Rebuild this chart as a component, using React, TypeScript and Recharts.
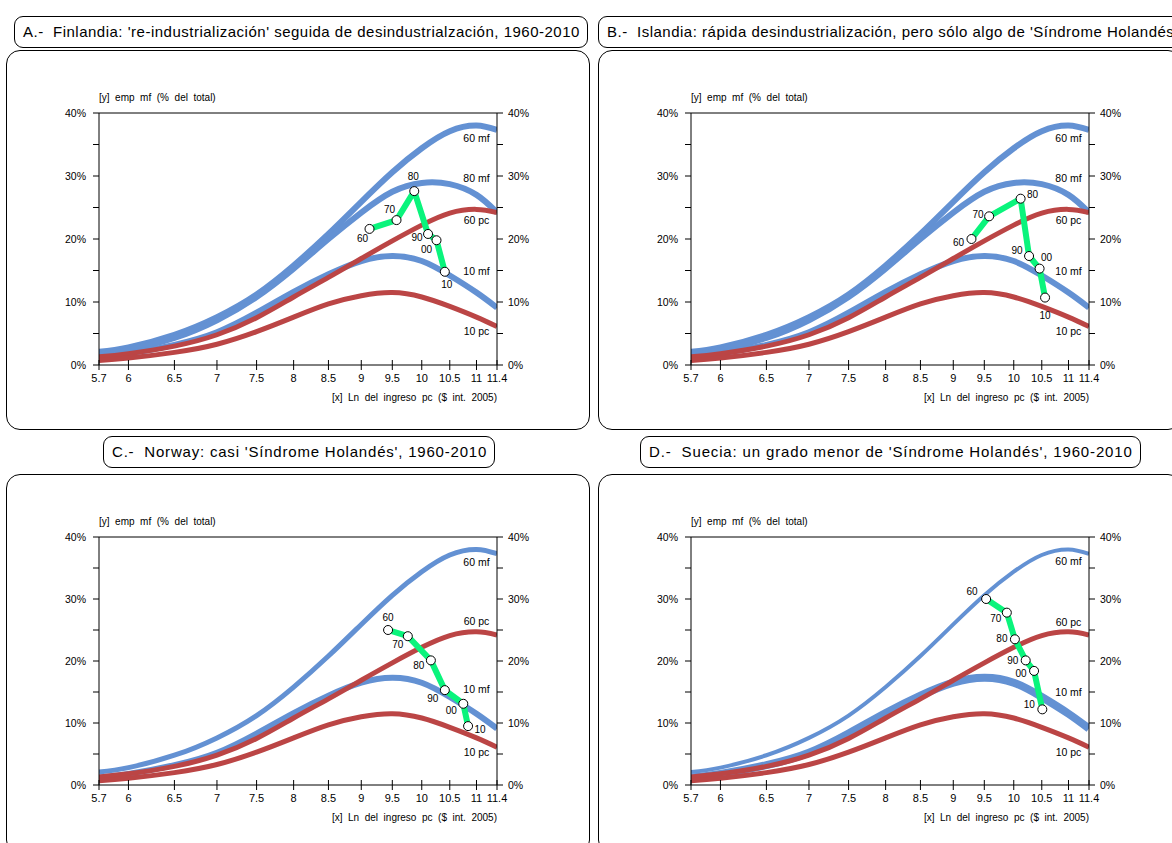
import React from 'react';
import { LineChart, Line, XAxis, YAxis, ReferenceLine, ReferenceDot } from 'recharts';

// x axis: Ln income, log-spaced ticks
const xTicks = [5.7, 6, 6.5, 7, 7.5, 8, 8.5, 9, 9.5, 10, 10.5, 11, 11.4];
const yTicks = [0, 5, 10, 15, 20, 25, 30, 35, 40];

// reference curves (same in every panel)
const curveX = [5.7, 6, 6.5, 7, 7.5, 8, 8.5, 9, 9.5, 10, 10.5, 11, 11.4];
const mf60 = [2.1, 2.8, 4.8, 7.6, 11.2, 15.8, 20.8, 25.9, 30.6, 34.4, 37.1, 38.0, 37.3];
const mf80 = [1.6, 2.4, 4.3, 7.1, 10.8, 15.3, 20.0, 24.2, 27.5, 28.9, 28.7, 27.0, 24.2];
const mf10 = [1.2, 1.8, 3.2, 5.2, 8.3, 11.6, 14.4, 16.5, 17.3, 16.5, 14.2, 11.5, 9.1];
const pc60 = [1.3, 1.8, 3.0, 4.8, 7.5, 10.8, 13.9, 16.9, 19.7, 22.2, 24.1, 24.7, 24.2];
const pc10 = [0.7, 1.1, 2.0, 3.3, 5.3, 7.6, 9.7, 11.0, 11.5, 10.8, 9.3, 7.6, 6.1];

// country paths, decades 1960-2010
const years = ['60', '70', '80', '90', '00', '10'];
const finX = [9.13, 9.57, 9.87, 10.11, 10.26, 10.41];
const finY = [21.6, 23.0, 27.6, 20.8, 19.8, 14.8];
const iceX = [9.29, 9.58, 10.12, 10.27, 10.46, 10.56];
const iceY = [20.0, 23.6, 26.4, 17.3, 15.3, 10.7];
const norX = [9.43, 9.76, 10.16, 10.41, 10.75, 10.84];
const norY = [25.0, 24.0, 20.1, 15.3, 13.1, 9.5];
const sweX = [9.53, 9.88, 10.02, 10.21, 10.36, 10.51];
const sweY = [30.0, 27.8, 23.5, 20.1, 18.4, 12.2];

const BLUE = '#6391d3';
const RED = '#bb4545';
const GREEN = '#0af47c';
const FONT = '"Liberation Sans", Arial, sans-serif';

const toPts = (xs: number[], ys: number[]) => xs.map((x, i) => ({ x, y: ys[i] }));

const XTick = (props: any) => {
  const { x, y, payload } = props;
  return (
    <g>
      <line x1={x} x2={x} y1={y - 5} y2={y + 5} stroke="#000" />
      <text x={x} y={y + 17} textAnchor="middle" fontSize={11} fill="#000" fontFamily={FONT}>
        {payload.value}
      </text>
    </g>
  );
};

interface PanelProps {
  title: string;
  box: { left: number; top: number; width?: number };
  spacing: number;
  left: number;
  top: number;
  plotH: number;
  pathX: number[];
  pathY: number[];
  offsets: number[][];
  curveLabels: { text: string; y: number }[];
  withMf80: boolean;
  mf60W: number;
  mf10W: number;
}

const Panel: React.FC<PanelProps> = (p) => {
  const W = 584;
  const H = 380;
  const plotTop = 63;
  const plotLeft = 93;
  const path = p.pathX.map((x, i) => ({ x, y: p.pathY[i], yr: years[i] }));

  const renderDot = (d: any) => {
    const off = p.offsets[d.index] || [0, 0];
    return (
      <g key={'d' + d.index}>
        <circle cx={d.cx} cy={d.cy} r={4.5} fill="#fff" stroke="#000" strokeWidth={1} />
        <text
          x={d.cx + off[0]}
          y={d.cy + off[1] + 3.5}
          textAnchor="middle"
          fontSize={10}
          fontFamily={FONT}
          fill="#000"
        >
          {d.payload.yr}
        </text>
      </g>
    );
  };

  const curve = (ys: number[], color: string, w: number) => (
    <Line
      yAxisId="l"
      data={toPts(curveX, ys)}
      dataKey="y"
      type="natural"
      stroke={color}
      strokeWidth={w}
      dot={false}
      activeDot={false}
      isAnimationActive={false}
    />
  );

  return (
    <>
      <div
        style={{
          position: 'absolute',
          left: p.box.left,
          top: p.box.top,
          width: p.box.width,
          height: 30,
          lineHeight: '30px',
          padding: '0 7px 0 8px',
          border: '1px solid #000',
          borderRadius: 9,
          fontSize: 15,
          letterSpacing: p.spacing,
          fontFamily: FONT,
          whiteSpace: 'pre',
          overflow: 'hidden',
          boxSizing: 'content-box',
        }}
      >
        {p.title}
      </div>
      <div
        style={{
          position: 'absolute',
          left: p.left,
          top: p.top,
          width: W - 2,
          height: H - 2,
          border: '1px solid #000',
          borderRadius: 14,
        }}
      >
        <div
          style={{
            position: 'absolute',
            left: plotLeft - 1,
            top: plotTop - 22,
            fontSize: 10,
            fontFamily: FONT,
            whiteSpace: 'pre',
          }}
        >
          [y]  emp  mf  (%  del  total)
        </div>
        <div
          style={{
            position: 'absolute',
            left: plotLeft - 1,
            width: 398,
            top: plotTop + p.plotH + 26,
            fontSize: 10,
            fontFamily: FONT,
            textAlign: 'right',
            whiteSpace: 'pre',
          }}
        >
          [x]  Ln  del  ingreso  pc  ($  int.  2005)
        </div>
        <div style={{ position: 'absolute', left: -1, top: -1 }}>
          <LineChart
            width={W}
            height={H}
            margin={{ top: plotTop, left: plotLeft - 40, right: W - plotLeft - 398 - 40, bottom: H - plotTop - p.plotH - 40 }}
          >
            <XAxis
              dataKey="x"
              type="number"
              scale="log"
              domain={[5.7, 11.4]}
              ticks={xTicks}
              interval={0}
              allowDataOverflow
              tickLine={false}
              tickSize={0}
              tickMargin={0}
              tick={<XTick />}
              axisLine={{ stroke: '#000' }}
              height={40}
            />
            <YAxis
              yAxisId="l"
              domain={[0, 40]}
              ticks={yTicks}
              interval={0}
              allowDataOverflow
              width={40}
              tickSize={6}
              tickMargin={7}
              tickFormatter={(v: number) => (v % 10 === 0 ? `${v}%` : '')}
              tick={{ fontSize: 10.5, fill: '#000', fontFamily: FONT }}
              tickLine={{ stroke: '#000' }}
              axisLine={{ stroke: '#000' }}
            />
            <YAxis
              yAxisId="r"
              orientation="right"
              domain={[0, 40]}
              ticks={yTicks}
              interval={0}
              allowDataOverflow
              width={40}
              tickSize={6}
              tickMargin={5}
              tickFormatter={(v: number) => (v % 10 === 0 ? `${v}%` : '')}
              tick={{ fontSize: 10.5, fill: '#000', fontFamily: FONT }}
              tickLine={{ stroke: '#000' }}
              axisLine={{ stroke: '#000' }}
            />
            <ReferenceLine yAxisId="l" y={40} stroke="#000" ifOverflow="visible" />
            {curve(mf60, BLUE, p.mf60W)}
            {p.withMf80 && curve(mf80, BLUE, 6)}
            {curve(mf10, BLUE, p.mf10W)}
            {curve(pc60, RED, 5)}
            {curve(pc10, RED, 5)}
            <Line
              yAxisId="l"
              data={path}
              dataKey="y"
              type="linear"
              stroke={GREEN}
              strokeWidth={6}
              strokeLinejoin="round"
              dot={renderDot}
              activeDot={false}
              isAnimationActive={false}
            />
            {p.curveLabels.map((c) => (
              <ReferenceDot
                key={c.text}
                yAxisId="l"
                x={11.0}
                y={c.y}
                r={0}
                fill="none"
                stroke="none"
                ifOverflow="visible"
                label={{ value: c.text, position: 'center', fontSize: 10.5, fill: '#000', fontFamily: FONT }}
              />
            ))}
          </LineChart>
        </div>
      </div>
    </>
  );
};

const App: React.FC = () => {
  return (
    <div style={{ position: 'absolute', left: 0, top: 0, width: 1172, height: 843, overflow: 'hidden', background: '#fff' }}>
      <Panel
        title={"A.-  Finlandia: 're-industrialización' seguida de desindustrialzación, 1960-2010"}
        box={{ left: 14, top: 16 }}
        spacing={0.5}
        left={6}
        top={50}
        plotH={252}
        pathX={finX}
        pathY={finY}
        offsets={[[-7, 10], [-7, -11], [-1, -15], [-11, 4], [-10, 9], [2, 13]]}
        curveLabels={[
          { text: '60 mf', y: 36.0 },
          { text: '80 mf', y: 29.6 },
          { text: '60 pc', y: 23.0 },
          { text: '10 mf', y: 14.8 },
          { text: '10 pc', y: 5.3 },
        ]}
        withMf80
        mf60W={6}
        mf10W={6}
      />
      <Panel
        title={"B.-  Islandia: rápida desindustrialización, pero sólo algo de 'Síndrome Holandés', 1960-2010"}
        box={{ left: 598, top: 16, width: 720 }}
        spacing={0.5}
        left={598}
        top={50}
        plotH={252}
        pathX={iceX}
        pathY={iceY}
        offsets={[[-13, 3], [-11, -2], [12, -4], [-12, -6], [7, -11], [0, 18]]}
        curveLabels={[
          { text: '60 mf', y: 36.0 },
          { text: '80 mf', y: 29.6 },
          { text: '60 pc', y: 23.0 },
          { text: '10 mf', y: 14.8 },
          { text: '10 pc', y: 5.3 },
        ]}
        withMf80
        mf60W={6}
        mf10W={6}
      />
      <Panel
        title={"C.-  Norway: casi 'Síndrome Holandés', 1960-2010"}
        box={{ left: 103, top: 436 }}
        spacing={0.8}
        left={6}
        top={474}
        plotH={248}
        pathX={norX}
        pathY={norY}
        offsets={[[0, -13], [-10, 8], [-12, 5], [-12, 8], [-12, 7], [12, 3]]}
        curveLabels={[
          { text: '60 mf', y: 35.9 },
          { text: '60 pc', y: 26.4 },
          { text: '10 mf', y: 15.4 },
          { text: '10 pc', y: 5.3 },
        ]}
        withMf80={false}
        mf60W={5}
        mf10W={6}
      />
      <Panel
        title={"D.-  Suecia: un grado menor de 'Síndrome Holandés', 1960-2010"}
        box={{ left: 640, top: 436 }}
        spacing={0.85}
        left={598}
        top={474}
        plotH={248}
        pathX={sweX}
        pathY={sweY}
        offsets={[[-14, -8], [-11, 6], [-13, -1], [-13, 0], [-13, 3], [-13, -5]]}
        curveLabels={[
          { text: '60 mf', y: 36.1 },
          { text: '60 pc', y: 26.3 },
          { text: '10 mf', y: 14.9 },
          { text: '10 pc', y: 5.3 },
        ]}
        withMf80={false}
        mf60W={4}
        mf10W={8}
      />
    </div>
  );
};

export default App;
